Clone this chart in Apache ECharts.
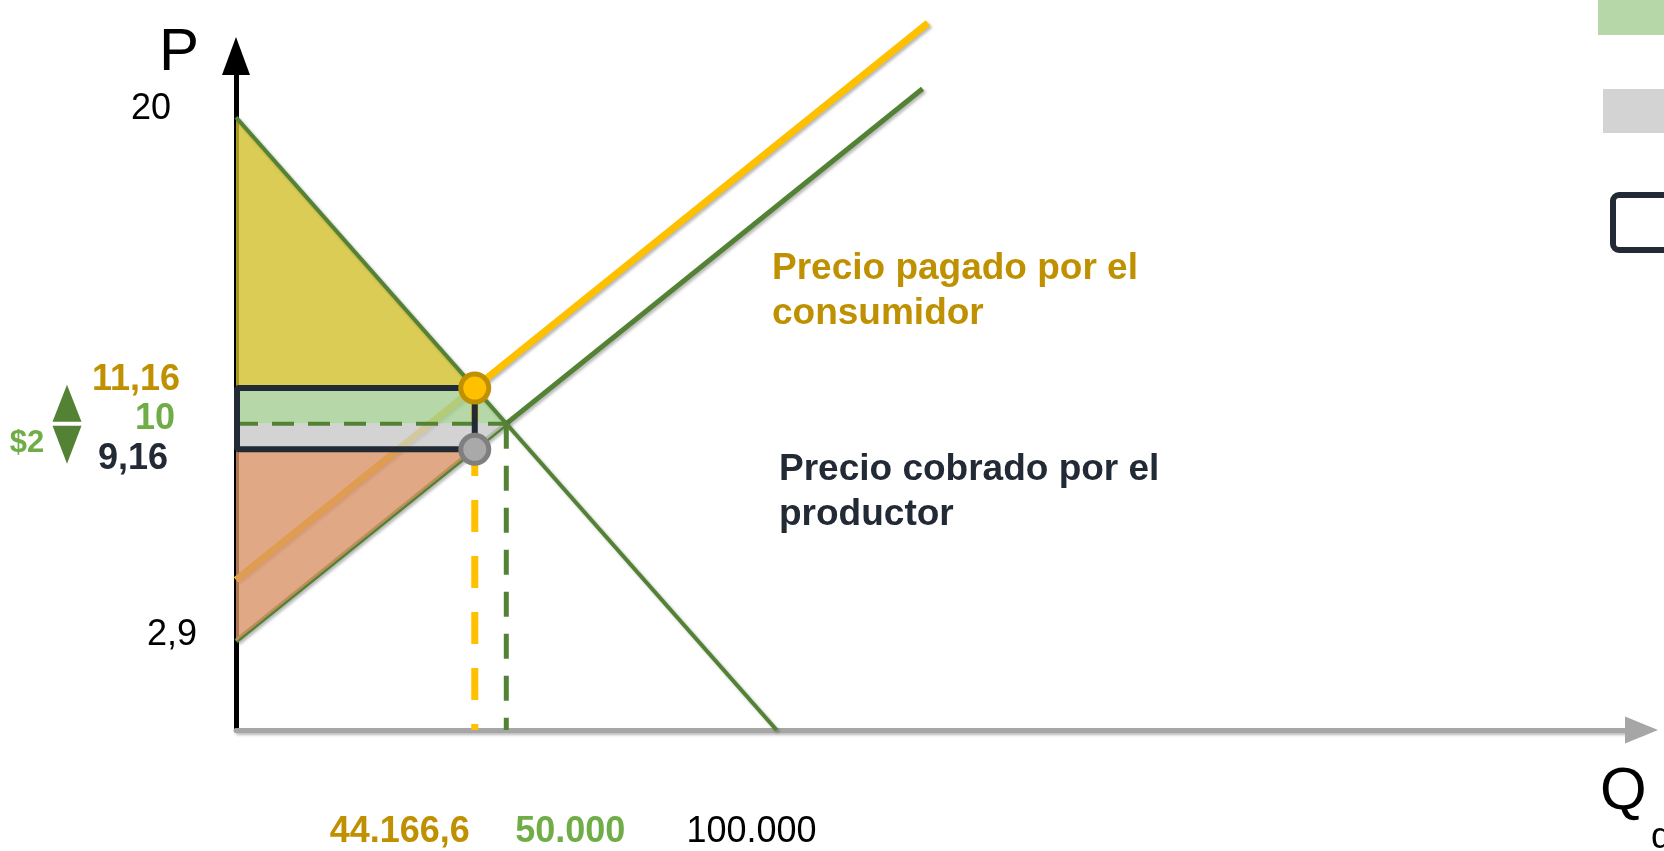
<!DOCTYPE html>
<html>
<head>
<meta charset="utf-8">
<title>Impuesto: precio pagado y precio cobrado</title>
<script src="https://cdn.jsdelivr.net/npm/echarts@6/dist/echarts.min.js"></script>
<style>
  html, body { margin: 0; padding: 0; background: #ffffff; }
  #chart { width: 1664px; height: 851px; }
</style>
</head>
<body>
<div id="chart"></div>
<script>
// Market values (Q in units, P in $)
const Q_TAX = 44166.6;   // quantity traded with the tax
const Q_EQ = 50000;      // equilibrium quantity without tax
const P_CONS = 11.16;    // price paid by the consumer
const P_EQ = 10;         // equilibrium price
const P_PROD = 9.16;     // price received by the producer
const P_TOP = 20;        // demand intercept
const P_SUP0 = 2.9;      // supply intercept

// Curves (end points of each straight line)
const demandPts = [[0, 20], [100000, 0]];
const supplyPts = [[0, 2.9], [127000, 20.93]];
const taxedSupplyPts = [[0, 4.9], [128000, 23.08]];

// Axis tick labels
const yTickValues = [20, 11.16, 10, 9.16, 2.9];
const yTickLabels = ['20', '11,16', '10', '9,16', '2,9'];
const xTickValues = [44166.6, 50000, 100000];
const xTickLabels = ['44.166,6', '50.000', '100.000'];

// Tax per unit
const taxLabel = '$2';

const FONT = '"Liberation Sans", Arial, Helvetica, sans-serif';
const GREEN = '#548235';
const LIGHT_GREEN_TXT = '#70ad47';
const GOLD = '#bf9000';
const YELLOW = '#ffc000';
const DARK = '#222a35';

// label styling, one entry per tick
const yTickStyle = [
  { color: '#000000', fontWeight: 'normal', right: 171, dy: -8 },
  { color: GOLD, fontWeight: 'bold', right: 180, dy: -8 },
  { color: LIGHT_GREEN_TXT, fontWeight: 'bold', right: 175, dy: -5 },
  { color: DARK, fontWeight: 'bold', right: 168, dy: 10 },
  { color: '#000000', fontWeight: 'normal', right: 197, dy: -6 }
];
const xTickStyle = [
  { color: GOLD, fontWeight: 'bold', dx: -75 },
  { color: LIGHT_GREEN_TXT, fontWeight: 'bold', dx: 64 },
  { color: '#000000', fontWeight: 'normal', dx: -25 }
];

// Areas between the curves
const consumerSurplus = [[0, P_TOP], [0, P_CONS], [Q_TAX, P_CONS]];
const consumerTax = [[0, P_CONS], [Q_TAX, P_CONS], [Q_EQ, P_EQ], [0, P_EQ]];
const producerTax = [[0, P_EQ], [Q_EQ, P_EQ], [Q_TAX, P_PROD], [0, P_PROD]];
const producerSurplus = [[0, P_PROD], [Q_TAX, P_PROD], [0, P_SUP0]];

const AXIS_LEFT = 236;

const shadow = { shadowColor: 'rgba(0,0,0,0.28)', shadowBlur: 3, shadowOffsetX: 2, shadowOffsetY: 2 };

function areaSeries(points, fill, z) {
  return {
    type: 'custom', silent: true, z: z, clip: false,
    data: points,
    renderItem: function (params, api) {
      if (params.dataIndex !== 0) return null;
      return {
        type: 'polygon',
        shape: { points: points.map(function (p) { return api.coord(p); }) },
        style: { fill: fill, opacity: 0.8 }
      };
    }
  };
}

function lineSeries(points, color, width, dash, z, withShadow) {
  const ls = { color: color, width: width, type: dash || 'solid', cap: 'butt', opacity: 1 };
  if (withShadow) Object.assign(ls, shadow);
  return {
    type: 'line', data: points, showSymbol: false, symbol: 'none',
    silent: true, clip: false, z: z, animation: false,
    lineStyle: ls
  };
}

function tickLabelSeries(points, labels) {
  return {
    type: 'scatter', silent: true, z: 9,
    symbolSize: 0.1, itemStyle: { color: 'rgba(0,0,0,0)', opacity: 1 },
    data: points.map(function (p, i) { return { value: p, label: labels[i] }; })
  };
}

const chart = echarts.init(document.getElementById('chart'), null, { renderer: 'canvas' });

const option = {
  animation: false,
  backgroundColor: '#ffffff',
  grid: { left: AXIS_LEFT, top: 56, right: 22.5, bottom: 121, outerBoundsMode: 'none', containLabel: false },
  xAxis: {
    type: 'value', min: 0, max: 260000,
    axisLine: {
      show: true, onZero: false,
      symbol: ['none', 'triangle'], symbolSize: [27, 33],
      lineStyle: Object.assign({ color: '#a6a6a6', width: 5 }, shadow)
    },
    axisTick: { show: false }, axisLabel: { show: false }, splitLine: { show: false }
  },
  yAxis: {
    type: 'value', min: 0, max: 22,
    axisLine: {
      show: true, onZero: false,
      symbol: ['none', 'triangle'], symbolSize: [28, 38],
      lineStyle: { color: '#000000', width: 5 }
    },
    axisTick: { show: false }, axisLabel: { show: false }, splitLine: { show: false }
  },
  series: [
    // supply and supply + tax
    lineSeries(supplyPts, GREEN, 5, null, 2, true),
    lineSeries(taxedSupplyPts, YELLOW, 7, null, 2, true),

    // shaded areas
    areaSeries(consumerSurplus, 'rgb(209,191,41)', 3),
    areaSeries(consumerTax, 'rgb(164,205,146)', 3),
    areaSeries(producerTax, 'rgb(200,200,200)', 3),
    areaSeries(producerSurplus, 'rgb(216,146,101)', 3),

    // demand
    lineSeries(demandPts, GREEN, 4, null, 4, true),

    // guide lines
    lineSeries([[0, P_EQ], [Q_EQ, P_EQ]], GREEN, 4, [22, 14], 5, false),
    lineSeries([[Q_EQ, P_EQ], [Q_EQ, 0]], GREEN, 5, [25, 17], 5, false),
    lineSeries([[Q_TAX, P_CONS], [Q_TAX, 0]], YELLOW, 7, [32, 24], 5, false),

    // tax box
    {
      type: 'custom', silent: true, z: 6, clip: false,
      data: [[0, P_CONS, Q_TAX, P_PROD]],
      renderItem: function (params, api) {
        const a = api.coord([api.value(0), api.value(1)]);
        const b = api.coord([api.value(2), api.value(3)]);
        return {
          type: 'rect',
          shape: { x: a[0] + 1, y: a[1], width: b[0] - a[0] - 1, height: b[1] - a[1], r: 2 },
          style: { fill: 'none', stroke: DARK, lineWidth: 6 }
        };
      }
    },

    // prices with the tax
    {
      type: 'scatter', silent: true, z: 7,
      data: [
        { value: [Q_TAX, P_CONS], itemStyle: { color: YELLOW, borderColor: GOLD, borderWidth: 5, opacity: 1 } },
        { value: [Q_TAX, P_PROD], itemStyle: { color: '#a9a9a9', borderColor: '#7f7f7f', borderWidth: 5, opacity: 1 } }
      ],
      symbol: 'circle', symbolSize: 28
    },

    // tax arrow and its amount
    {
      type: 'custom', silent: true, z: 8, clip: false,
      data: [[0, P_EQ]],
      renderItem: function (params, api) {
        const c = api.coord([api.value(0), api.value(1)]);
        const x = c[0] - 169, y = c[1];
        return {
          type: 'group',
          children: [
            { type: 'polygon', shape: { points: [[x, y - 39], [x + 14.5, y - 2], [x - 14.5, y - 2]] }, style: { fill: GREEN } },
            { type: 'polygon', shape: { points: [[x, y + 40], [x + 14.5, y + 2], [x - 14.5, y + 2]] }, style: { fill: GREEN } },
            { type: 'text', style: { text: taxLabel, x: x - 40, y: y + 20, align: 'center', verticalAlign: 'middle',
              fill: LIGHT_GREEN_TXT, font: 'bold 31px ' + FONT } }
          ]
        };
      }
    },

    // price tick labels
    tickLabelSeries(
      yTickValues.map(function (v) { return [0, v]; }),
      yTickValues.map(function (v, i) {
        const s = yTickStyle[i];
        return {
          show: true, position: 'inside', align: 'right', verticalAlign: 'middle',
          offset: [s.right - AXIS_LEFT, s.dy],
          formatter: yTickLabels[i], color: s.color, fontWeight: s.fontWeight,
          fontSize: 36, fontFamily: FONT, opacity: 1, textBorderWidth: 0
        };
      })
    ),

    // quantity tick labels
    tickLabelSeries(
      xTickValues.map(function (v) { return [v, 0]; }),
      xTickValues.map(function (v, i) {
        const s = xTickStyle[i];
        return {
          show: true, position: 'inside', align: 'center', verticalAlign: 'middle',
          offset: [s.dx, 102],
          formatter: xTickLabels[i], color: s.color, fontWeight: s.fontWeight,
          fontSize: 36, fontFamily: FONT, opacity: 1, textBorderWidth: 0
        };
      })
    )
  ],
  graphic: [
    // axis names
    { type: 'text', x: 159, y: 53, silent: true,
      style: { text: 'P', font: '60px ' + FONT, fill: '#000000', verticalAlign: 'middle' } },
    { type: 'text', x: 1600, y: 792, silent: true,
      style: { text: 'Q', font: '60px ' + FONT, fill: '#000000', verticalAlign: 'middle' } },
    { type: 'text', x: 1651, y: 838, silent: true,
      style: { text: 'd', font: '36px ' + FONT, fill: '#000000', verticalAlign: 'middle' } },

    // curve annotations
    { type: 'text', x: 772, y: 246, silent: true,
      style: { text: 'Precio pagado por el\nconsumidor', font: 'bold 37px ' + FONT, lineHeight: 45,
        fill: GOLD, verticalAlign: 'top' } },
    { type: 'text', x: 779, y: 447.5, silent: true,
      style: { text: 'Precio cobrado por el\nproductor', font: 'bold 37px ' + FONT, lineHeight: 45,
        fill: DARK, verticalAlign: 'top' } },

    // key swatches along the right edge
    { type: 'rect', silent: true, shape: { x: 1598, y: -10, width: 80, height: 45 }, style: { fill: '#b6d7a8' } },
    { type: 'rect', silent: true, shape: { x: 1603, y: 89, width: 80, height: 44 }, style: { fill: '#d3d3d3' } },
    { type: 'rect', silent: true, shape: { x: 1613, y: 195, width: 100, height: 55, r: 6 },
      style: { fill: 'none', stroke: DARK, lineWidth: 6 } }
  ]
};

chart.setOption(option);
</script>
</body>
</html>
